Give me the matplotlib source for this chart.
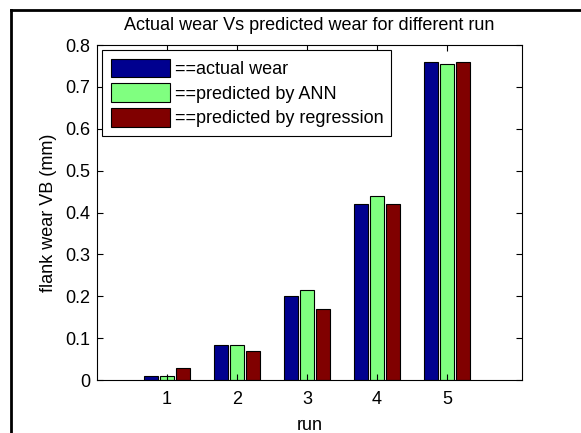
import numpy as np
import matplotlib
matplotlib.use('Agg')
import matplotlib.pyplot as plt
from matplotlib.lines import Line2D
from matplotlib.ticker import FuncFormatter

plt.rcParams['font.family'] = ['Liberation Sans', 'DejaVu Sans']

runs = [1, 2, 3, 4, 5]
actual_wear = [0.01, 0.085, 0.20, 0.42, 0.76]
ann_wear = [0.01, 0.085, 0.215, 0.44, 0.755]
regression_wear = [0.03, 0.07, 0.17, 0.42, 0.76]
labels = ['==actual wear', '==predicted by ANN', '==predicted by regression']
colors = ['#00008F', '#80FF80', '#800000']

fig = plt.figure(figsize=(5.81, 4.33), dpi=100)
ax = fig.add_axes([0.167, 0.122, 0.731, 0.774])

x = np.array(runs)
pitch = 0.229
width = 0.21
for i, (vals, lab, c) in enumerate(zip([actual_wear, ann_wear, regression_wear], labels, colors)):
    ax.bar(x + (i - 1) * pitch, vals, width=width, color=c, edgecolor='black',
           linewidth=0.8, label=lab)

ax.set_xlim(0, 6.07)
ax.set_ylim(0, 0.8)
ax.set_xticks(runs)
ax.set_yticks(np.arange(0, 0.81, 0.1))
ax.yaxis.set_major_formatter(FuncFormatter(lambda v, p: '0' if abs(v) < 1e-9 else f'{v:.1f}'))
ax.tick_params(direction='in', top=True, right=True, length=4, labelsize=13, colors='black')
ax.tick_params(axis='x', pad=8)
ax.tick_params(axis='y', pad=5)
for s in ax.spines.values():
    s.set_linewidth(0.8)

ax.set_title('Actual wear Vs predicted wear for different run', fontsize=13, pad=11)
ax.set_xlabel('run', fontsize=13, labelpad=6)
ax.set_ylabel('flank wear VB (mm)', fontsize=13, labelpad=6)

leg = ax.legend(loc='upper left', bbox_to_anchor=(0.0, 1.0), fontsize=13, fancybox=False,
                framealpha=1, edgecolor='black', handlelength=3.3, handleheight=1.2,
                handletextpad=0.25, borderaxespad=0.3, labelspacing=0.3, borderpad=0.45)
leg.get_frame().set_linewidth(0.8)

# outer frame (left and top edges visible in the reference)
fig.add_artist(Line2D([11 / 581, 11 / 581], [0, 1 - 10 / 433], transform=fig.transFigure, color='black', lw=2))
fig.add_artist(Line2D([11 / 581, 1], [1 - 10 / 433, 1 - 10 / 433], transform=fig.transFigure, color='black', lw=2))

fig.savefig('out.png', dpi=100)
